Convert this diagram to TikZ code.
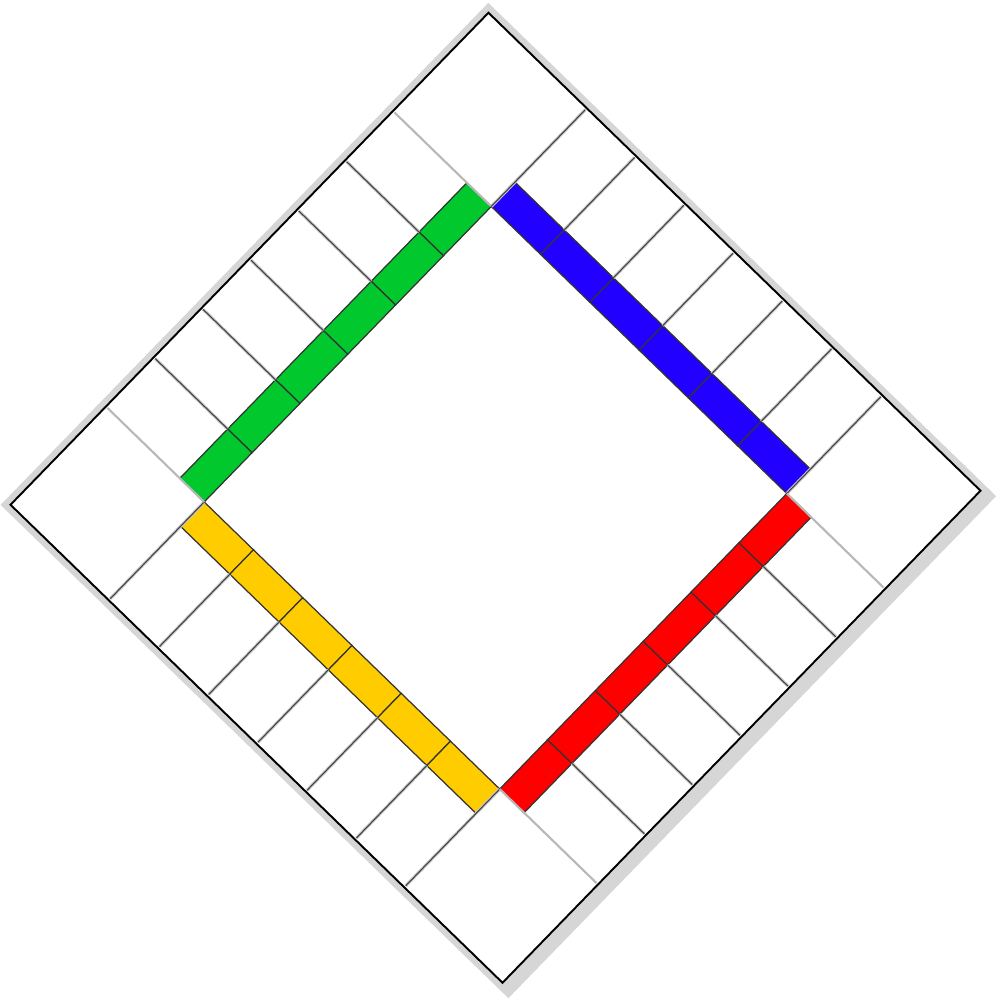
\documentclass[tikz,border=0pt]{standalone}

\definecolor{stripgreen}{RGB}{0,200,45}
\definecolor{stripblue}{RGB}{34,0,255}
\definecolor{stripred}{RGB}{255,0,0}
\definecolor{stripyellow}{RGB}{255,204,0}

\begin{document}
\begin{tikzpicture}[
  x=0.1mm, y=0.1mm,
  shadowbox/.style={fill=black!16, draw=none},
  boardedge/.style={draw=black, line width=0.55pt},
  tileline/.style={draw=black!75, line width=0.3pt,
    preaction={draw=black!22, line width=0.9pt}},
  faintline/.style={draw=black!28, line width=0.6pt},
  stripcell/.style={draw=black!80, line width=0.35pt}
]

\useasboundingbox (0,0) rectangle (998,1000);

% -------------------------
% Board, turned onto its corner
% -------------------------

\begin{scope}[shift={(495.5,502.25)}, rotate=-44.17]

  % shadow under the board
  \fill[shadowbox] (-350,-350) rectangle (358,350);
  \fill[white] (-343,-343) rectangle (343,343);

  % one side per pass: strip colour and style of its two end lines
  \foreach \ang/\col/\endline in {0/stripyellow/tileline,
                                  -90/stripgreen/faintline,
                                  180/stripblue/tileline,
                                  90/stripred/faintline} {
    \begin{scope}[rotate=\ang]
      % coloured strip, six cells
      \foreach \k in {0,...,5}
        \draw[stripcell, fill=\col]
          (-206+\k*68.667,-240) rectangle (-137.333+\k*68.667,-206);
      % lines between the tiles
      \foreach \k in {1,...,5}
        \draw[tileline] (-206+\k*68.667,-341) -- (-206+\k*68.667,-240);
      % corner squares
      \draw[\endline] (-206,-341) -- (-206,-206);
      \draw[\endline] (206,-341) -- (206,-206);
    \end{scope}
  }

  % outer edge
  \draw[boardedge] (-343,-343) rectangle (343,343);

\end{scope}

\end{tikzpicture}
\end{document}
